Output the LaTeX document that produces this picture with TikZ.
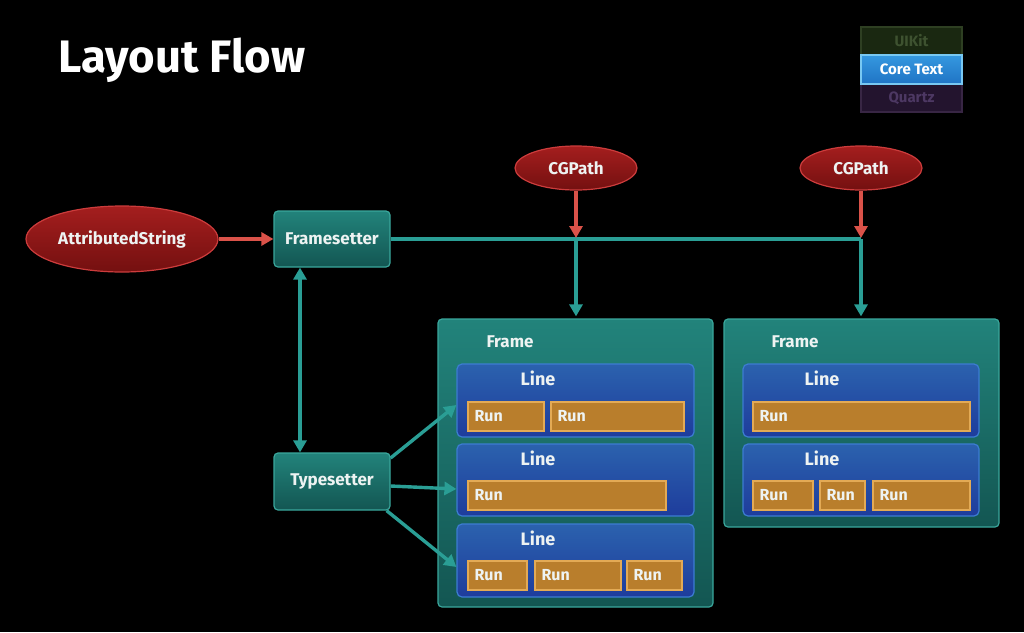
\documentclass[tikz,border=0pt]{standalone}
\usepackage{fontspec}
\setmainfont{Fira Sans}
\usetikzlibrary{shapes.geometric,arrows.meta,calc}
\definecolor{tealtop}{HTML}{22837B}
\definecolor{tealbot}{HTML}{135652}
\definecolor{tealedge}{HTML}{3AA79C}
\definecolor{tealarrow}{HTML}{2A9E95}
\definecolor{bluetop}{HTML}{2B62AE}
\definecolor{bluebot}{HTML}{1E3C9C}
\definecolor{blueedge}{HTML}{3C7CD2}
\definecolor{runfill}{HTML}{B97E2C}
\definecolor{runedge}{HTML}{E3AA55}
\definecolor{redtop}{HTML}{A41E1E}
\definecolor{redbot}{HTML}{741010}
\definecolor{rededge}{HTML}{CC3C3C}
\definecolor{redarrow}{HTML}{DA5249}
\definecolor{txt}{HTML}{EEF3F2}
\definecolor{uifill}{HTML}{1A2811}
\definecolor{uiedge}{HTML}{2E3F22}
\definecolor{uitext}{HTML}{3E5230}
\definecolor{ctop}{HTML}{3598E0}
\definecolor{cbot}{HTML}{1F74C4}
\definecolor{cedge}{HTML}{78C8F2}
\definecolor{qfill}{HTML}{23142E}
\definecolor{qedge}{HTML}{382644}
\definecolor{qtext}{HTML}{4D3863}
\tikzset{
  tealbox/.style={draw=tealedge, line width=1.2pt, rounded corners=4pt, top color=tealtop, bottom color=tealbot, inner sep=0pt, text=txt, font=\bfseries\fontsize{17}{19}\selectfont},
  linebox/.style={draw=blueedge, line width=1.2pt, rounded corners=5pt, top color=bluetop, bottom color=bluebot, inner sep=0pt},
  runbox/.style={draw=runedge, line width=1.2pt, fill=runfill, inner sep=0pt, minimum height=29pt},
  runtxt/.style={anchor=west, text=txt, inner sep=0pt, font=\bfseries\fontsize{16}{18}\selectfont},
  linetxt/.style={text=txt, inner sep=0pt, font=\bfseries\fontsize{18}{20}\selectfont},
  frametxt/.style={text=txt, inner sep=0pt, font=\bfseries\fontsize{17}{19}\selectfont},
  redell/.style={ellipse, draw=rededge, line width=1.2pt, top color=redtop, bottom color=redbot, inner sep=0pt, text=txt, font=\bfseries\fontsize{17}{19}\selectfont},
  legend/.style={line width=1.2pt, minimum width=101pt, inner sep=0pt, font=\bfseries\fontsize{15}{17}\selectfont},
  tarrow/.style={draw=tealarrow, line width=3.4pt, -{Triangle[length=12pt,width=13pt]}},
  tline/.style={draw=tealarrow, line width=3.4pt},
  rarrow/.style={draw=redarrow, line width=3.4pt, -{Triangle[length=12pt,width=13pt]}},
}
\newcommand{\myrun}[5]{%
  \node[runbox, minimum width=#4pt] (#1) at (#2,#3) {};
  \node[runtxt] (#1t) at ([xshift=7pt]#1.west) {Run};}
\begin{document}
\begin{tikzpicture}[x=1pt,y=-1pt]
\fill[black] (0,0) rectangle (1024,632);
\useasboundingbox (0,0) rectangle (1024,632);

% title
\node[anchor=base west, text=white, inner sep=0pt, font=\bfseries\fontsize{45.5}{50}\selectfont] (title) at (58,72) {Layout Flow};

% legend
\node[legend, draw=uiedge, fill=uifill, text=uitext, minimum height=28pt] (uikit) at (911.5,41) {UIKit};
\node[legend, draw=qedge, fill=qfill, text=qtext, minimum height=28pt] (quartz) at (911.5,98) {Quartz};
\node[legend, draw=cedge, top color=ctop, bottom color=cbot, text=white, minimum height=29pt] (coretext) at (911.5,69.5) {Core Text};

% ellipses
\node[redell, minimum width=192pt, minimum height=66pt] (as) at (122,239) {AttributedString};
\node[redell, minimum width=122pt, minimum height=44pt] (cg1) at (576,168) {CGPath};
\node[redell, minimum width=122pt, minimum height=44pt] (cg2) at (861,168) {CGPath};

% framesetter / typesetter
\node[tealbox, minimum width=116pt, minimum height=56pt] (fs) at (332,239) {Framesetter};
\node[tealbox, minimum width=116pt, minimum height=57pt] (ts) at (332,481.5) {Typesetter};

% frames
\node[tealbox, minimum width=275pt, minimum height=288pt] (f1) at (575.5,463) {};
\node[frametxt] (f1t) at (510,342) {Frame};
\node[tealbox, minimum width=275pt, minimum height=208pt] (f2) at (861.5,423) {};
\node[frametxt] (f2t) at (795,342) {Frame};

% lines of frame 1
\node[linebox, minimum width=237pt, minimum height=73pt] (l11) at (575.5,400.5) {};
\node[linetxt] (l11t) at (538,378) {Line};
\node[linebox, minimum width=237pt, minimum height=72pt] (l12) at (575.5,480) {};
\node[linetxt] (l12t) at (538,458) {Line};
\node[linebox, minimum width=237pt, minimum height=73pt] (l13) at (575.5,560.5) {};
\node[linetxt] (l13t) at (538,538) {Line};
% lines of frame 2
\node[linebox, minimum width=236pt, minimum height=73pt] (l21) at (861,400.5) {};
\node[linetxt] (l21t) at (822,378) {Line};
\node[linebox, minimum width=236pt, minimum height=72pt] (l22) at (861,480) {};
\node[linetxt] (l22t) at (822,458) {Line};

% runs
\myrun{r11}{506}{416.5}{76}{}
\myrun{r12}{617.5}{416.5}{133}{}
\myrun{r21}{567}{495.5}{198}{}
\myrun{r31}{497.5}{575.5}{59}{}
\myrun{r32}{578}{575.5}{86}{}
\myrun{r33}{654.5}{575.5}{55}{}
\myrun{s11}{861.5}{416.5}{217}{}
\myrun{s21}{783}{495.5}{60}{}
\myrun{s22}{842.5}{495.5}{45}{}
\myrun{s23}{921.5}{495.5}{97}{}

% connectors
\coordinate (j1) at (576,239);
\coordinate (j2) at (861,239);
\draw[rarrow] (as.east) -- (fs.west);
\draw[tline] (fs.east) -- (j2);
\draw[rarrow] (cg1.south) -- ([yshift=1pt]j1);
\draw[rarrow] (cg2.south) -- ([yshift=1pt]j2);
\draw[tarrow] (j1) -- ([yshift=2pt]f1.north -| j1);
\draw[tarrow] (j2) -- ([yshift=2pt]f2.north -| j2);
\draw[tarrow, {Triangle[length=12pt,width=13pt]}-{Triangle[length=12pt,width=13pt]}] ([xshift=-32pt]fs.south) -- ([xshift=-32pt]ts.north);
\draw[tarrow] ([yshift=23.5pt]ts.east) -- ([yshift=-4.5pt]l11.west);
\draw[tarrow] ([yshift=-4.5pt]ts.east) -- ([yshift=-9pt]l12.west);
\draw[tarrow] ([xshift=-4pt]ts.south east) -- ([yshift=-6.5pt]l13.west);
\end{tikzpicture}
\end{document}
